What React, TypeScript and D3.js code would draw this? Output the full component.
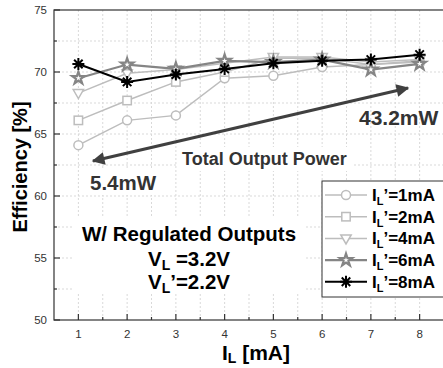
import React, { useEffect, useRef } from 'react';
import * as d3 from 'd3';

const loads = [1, 2, 3, 4, 5, 6, 7, 8];
const eff1mA = [64.1, 66.1, 66.5, 69.5, 69.7, 70.4, 70.6, 70.8];
const eff2mA = [66.1, 67.7, 69.2, 70.0, 71.1, 71.1, 70.6, 70.9];
const eff4mA = [68.3, 69.9, 70.2, 70.7, 71.2, 71.2, 70.8, 71.0];
const eff6mA = [69.5, 70.6, 70.25, 70.9, 70.8, 71.0, 70.2, 70.65];
const eff8mA = [70.65, 69.2, 69.8, 70.25, 70.7, 70.9, 71.0, 71.4];
const seriesNames = ['1mA', '2mA', '4mA', '6mA', '8mA'];
const yTicks = [50, 55, 60, 65, 70, 75];

const FONT = "'Liberation Sans', Arial, sans-serif";

const App = () => {
  const svgRef = useRef<SVGSVGElement>(null);

  useEffect(() => {
    const W = 443, H = 368;
    const svg = d3.select(svgRef.current);
    svg.selectAll('*').remove();

    const x = d3.scaleLinear().domain([0.5, 8.5]).range([54, 444]);
    const y = d3.scaleLinear().domain([50, 75]).range([320, 10]);

    const series = [
      { name: seriesNames[0], vals: eff1mA, color: '#bdbdbd', marker: 'circle', lw: 1.5 },
      { name: seriesNames[1], vals: eff2mA, color: '#bdbdbd', marker: 'square', lw: 1.5 },
      { name: seriesNames[2], vals: eff4mA, color: '#bdbdbd', marker: 'triangle', lw: 1.5 },
      { name: seriesNames[3], vals: eff6mA, color: '#858585', marker: 'star', lw: 2.2 },
      { name: seriesNames[4], vals: eff8mA, color: '#000000', marker: 'asterisk', lw: 2 },
    ];

    // grid
    const grid = svg.append('g');
    d3.range(1, 8.51, 0.5).forEach(v => {
      grid.append('line').attr('x1', x(v)).attr('x2', x(v)).attr('y1', y(50)).attr('y2', y(75))
        .attr('stroke', '#d9d9d9').attr('stroke-width', 1).attr('stroke-dasharray', '2,2');
    });
    d3.range(52.5, 75, 2.5).forEach(v => {
      grid.append('line').attr('x1', x(0.5)).attr('x2', x(8.5)).attr('y1', y(v)).attr('y2', y(v))
        .attr('stroke', '#d9d9d9').attr('stroke-width', 1).attr('stroke-dasharray', '2,2');
    });

    // white boxes behind annotations
    const boxes = [[178, 147, 174, 24], [86, 169, 76, 26], [74, 218, 230, 76]];
    boxes.forEach(b => svg.append('rect').attr('x', b[0]).attr('y', b[1]).attr('width', b[2]).attr('height', b[3]).attr('fill', '#fff'));

    // frame
    svg.append('rect').attr('x', x(0.5)).attr('y', y(75)).attr('width', x(8.5) - x(0.5)).attr('height', y(50) - y(75))
      .attr('fill', 'none').attr('stroke', '#333').attr('stroke-width', 1.2);

    // ticks
    const tk = svg.append('g').attr('stroke', '#333').attr('stroke-width', 1.2);
    d3.range(1, 8.51, 0.5).forEach(v => {
      const len = Number.isInteger(v) ? 6 : 3;
      tk.append('line').attr('x1', x(v)).attr('x2', x(v)).attr('y1', y(50)).attr('y2', y(50) - len);
    });
    d3.range(50, 75.01, 2.5).forEach(v => {
      const len = v % 5 === 0 ? 6 : 3;
      tk.append('line').attr('x1', x(0.5)).attr('x2', x(0.5) + len).attr('y1', y(v)).attr('y2', y(v));
    });

    loads.forEach(v => {
      svg.append('text').attr('x', x(v)).attr('y', 338).attr('text-anchor', 'middle')
        .attr('font-family', FONT).attr('font-size', 11.5).attr('fill', '#333').text(v);
    });
    yTicks.forEach(v => {
      svg.append('text').attr('x', 47).attr('y', y(v) + 4).attr('text-anchor', 'end')
        .attr('font-family', FONT).attr('font-size', 11.5).attr('fill', '#333').text(v);
    });

    // axis titles
    svg.append('text').attr('transform', `translate(27,${y(62.5) + 2}) rotate(-90)`).attr('text-anchor', 'middle')
      .attr('font-family', FONT).attr('font-size', 20).attr('font-weight', 'bold').text('Efficiency [%]');
    const xt = svg.append('text').attr('x', 256).attr('y', 360).attr('text-anchor', 'middle')
      .attr('font-family', FONT).attr('font-size', 21).attr('font-weight', 'bold');
    xt.append('tspan').text('I');
    xt.append('tspan').attr('font-size', 14).attr('dy', 3).text('L');
    xt.append('tspan').attr('dy', -3).text(' [mA]');

    // marker drawing
    const drawMarker = (g: any, kind: string, cx: number, cy: number, color: string) => {
      if (kind === 'circle') {
        g.append('circle').attr('cx', cx).attr('cy', cy).attr('r', 4.5).attr('fill', '#fff').attr('stroke', color).attr('stroke-width', 1.5);
      } else if (kind === 'square') {
        g.append('rect').attr('x', cx - 4.2).attr('y', cy - 4.2).attr('width', 8.4).attr('height', 8.4).attr('fill', '#fff').attr('stroke', color).attr('stroke-width', 1.5);
      } else if (kind === 'triangle') {
        g.append('path').attr('d', `M${cx - 5.2},${cy - 3.5}L${cx + 5.2},${cy - 3.5}L${cx},${cy + 5.5}Z`).attr('fill', '#fff').attr('stroke', color).attr('stroke-width', 1.5);
      } else if (kind === 'star') {
        g.append('path').attr('d', d3.symbol(d3.symbolStar, 48)()).attr('transform', `translate(${cx},${cy})`)
          .attr('fill', '#fff').attr('stroke', color).attr('stroke-width', 2.2);
      } else {
        const r = 6;
        const p = d3.range(4).map(i => {
          const a = (i * Math.PI) / 4;
          return `M${cx - r * Math.cos(a)},${cy - r * Math.sin(a)}L${cx + r * Math.cos(a)},${cy + r * Math.sin(a)}`;
        }).join('');
        g.append('path').attr('d', p).attr('stroke', color).attr('stroke-width', 2);
      }
    };

    const line = d3.line<number>().x((_, i) => x(loads[i])).y(d => y(d));
    series.forEach(s => {
      const g = svg.append('g');
      g.append('path').attr('d', line(s.vals)).attr('fill', 'none').attr('stroke', s.color).attr('stroke-width', s.lw);
      s.vals.forEach((v, i) => drawMarker(g, s.marker, x(loads[i]), y(v), s.color));
    });

    // arrow
    const defs = svg.append('defs');
    defs.append('marker').attr('id', 'ah').attr('viewBox', '0 0 10 10').attr('refX', 9).attr('refY', 5)
      .attr('markerWidth', 5).attr('markerHeight', 4).attr('orient', 'auto-start-reverse')
      .attr('markerUnits', 'strokeWidth')
      .append('path').attr('d', 'M0,0L10,5L0,10Z').attr('fill', '#404040');
    svg.append('line').attr('x1', 93).attr('y1', 161).attr('x2', 408).attr('y2', 88)
      .attr('stroke', '#404040').attr('stroke-width', 3.2)
      .attr('marker-start', 'url(#ah)').attr('marker-end', 'url(#ah)');

    const txt = (tx: number, ty: number, size: number, s: string, anchor = 'start', fill = '#000') =>
      svg.append('text').attr('x', tx).attr('y', ty).attr('font-family', FONT).attr('font-size', size)
        .attr('font-weight', 'bold').attr('fill', fill).attr('text-anchor', anchor).text(s);
    txt(359, 125, 21, '43.2mW', 'start', '#333');
    txt(182, 165, 18, 'Total Output Power', 'start', '#333');
    txt(90, 190, 20.5, '5.4mW', 'start', '#333');
    txt(189, 241, 20.5, 'W/ Regulated Outputs', 'middle');

    const vl = (ty: number, prime: boolean, val: string) => {
      const t = svg.append('text').attr('x', 189).attr('y', ty).attr('font-family', FONT).attr('font-size', 20.5)
        .attr('font-weight', 'bold').attr('text-anchor', 'middle');
      t.append('tspan').text('V');
      t.append('tspan').attr('font-size', 14).attr('dy', 4).text('L');
      t.append('tspan').attr('dy', -4).text((prime ? '\u2019' : ' ') + '=' + val);
    };
    vl(266, false, '3.2V');
    vl(289, true, '2.2V');

    // legend
    const lg = svg.append('g');
    lg.append('rect').attr('x', 322).attr('y', 181).attr('width', 130).attr('height', 116)
      .attr('fill', '#fff').attr('stroke', '#333').attr('stroke-width', 1);
    series.forEach((s, i) => {
      const ly = 195 + i * 21.7;
      lg.append('line').attr('x1', 325).attr('x2', 367).attr('y1', ly).attr('y2', ly).attr('stroke', s.color).attr('stroke-width', s.lw);
      drawMarker(lg, s.marker, 346, ly, s.color);
      const t = lg.append('text').attr('x', 372).attr('y', ly + 6).attr('font-family', FONT).attr('font-size', 17).attr('font-weight', 'bold');
      t.append('tspan').text('I');
      t.append('tspan').attr('font-size', 11).attr('dy', 4).text('L');
      t.append('tspan').attr('dy', -4).text('\u2019=' + s.name);
    });

    svg.attr('width', W).attr('height', H);
  }, []);

  return (
    <svg ref={svgRef} width={443} height={368} style={{ position: 'absolute', left: 0, top: 0, background: '#fff' }} />
  );
};

export default App;
